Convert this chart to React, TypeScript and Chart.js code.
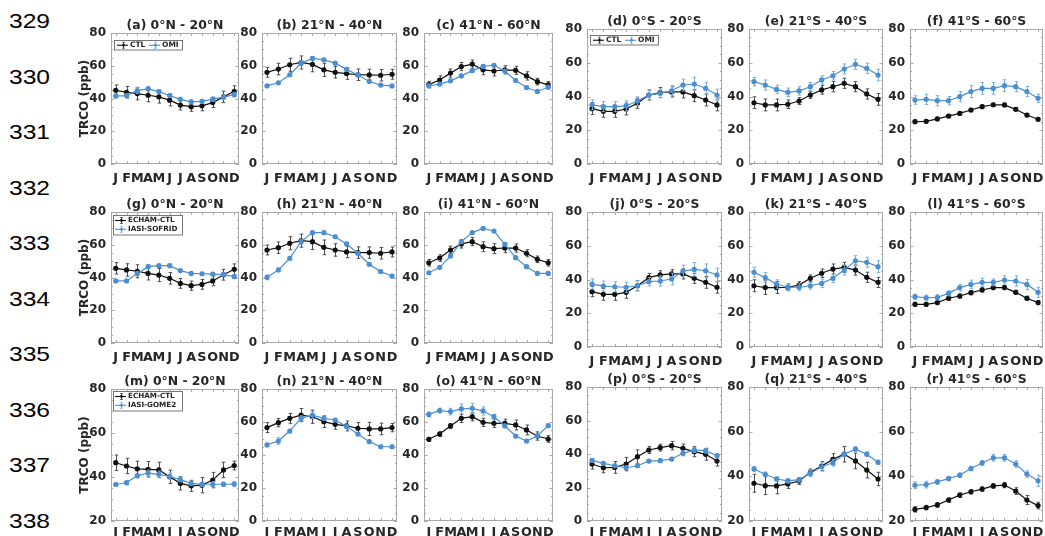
import { useEffect, useRef } from "react";
import { Chart, registerables } from "chart.js";

Chart.register(...registerables);

// ---------------------------------------------------------------------------
// Axis labels
// ---------------------------------------------------------------------------
const MONTHS = ["J", "F", "M", "A", "M", "J", "J", "A", "S", "O", "N", "D"];
const LINE_NUMBERS = ["329", "330", "331", "332", "333", "334", "335", "336", "337", "338"];
const Y_TITLE = "TRCO (ppb)";

// ---------------------------------------------------------------------------
// Monthly mean tropospheric CO (ppb) and 1-sigma spreads
// Row 1: ECHAM CTL vs OMI
// ---------------------------------------------------------------------------
const ctlA = [45.0, 43.8, 43.0, 42.0, 41.0, 39.0, 36.0, 35.0, 35.5, 37.5, 41.0, 44.4];
const omiA = [41.5, 41.8, 44.8, 45.9, 44.2, 41.8, 39.5, 38.0, 38.3, 39.6, 40.8, 42.4];
const ctlErrA = [3.3, 3.5, 3.8, 4.0, 3.8, 3.5, 3.0, 2.8, 3.0, 3.0, 3.5, 3.3];
const omiErrA = [1.2, 1.3, 1.8, 1.5, 1.3, 1.2, 1.2, 1.2, 1.2, 1.3, 1.3, 1.3];

const ctlB = [56.0, 58.0, 60.6, 62.0, 60.8, 57.5, 56.0, 55.2, 54.5, 54.4, 54.2, 54.8];
const omiB = [47.7, 49.6, 54.5, 61.5, 64.5, 63.6, 61.6, 57.8, 54.4, 50.4, 48.2, 47.7];
const ctlErrB = [3.0, 3.5, 4.0, 4.0, 4.5, 4.0, 3.5, 3.5, 3.5, 3.5, 3.5, 3.0];
const omiErrB = [0.8, 0.8, 1.0, 1.5, 1.0, 1.0, 1.0, 1.0, 1.0, 0.8, 0.8, 0.8];

const ctlC = [48.5, 51.3, 55.5, 59.5, 61.0, 57.5, 56.8, 57.5, 57.2, 53.8, 50.3, 48.3];
const omiC = [47.8, 48.8, 50.8, 53.8, 57.0, 59.6, 60.3, 56.8, 51.0, 46.7, 44.3, 46.9];
const ctlErrC = [2.0, 2.5, 2.5, 2.5, 2.5, 3.0, 3.0, 2.5, 2.5, 2.5, 2.0, 2.0];
const omiErrC = [1.0, 1.0, 1.0, 1.0, 1.0, 1.0, 1.0, 1.0, 1.0, 1.0, 1.0, 1.0];

const ctlD = [32.8, 31.2, 31.2, 32.6, 36.0, 40.9, 42.3, 42.7, 42.7, 40.5, 37.9, 35.0];
const omiD = [35.1, 34.0, 34.0, 34.4, 37.3, 40.9, 41.9, 43.4, 46.8, 47.4, 44.9, 40.9];
const ctlErrD = [3.5, 3.5, 3.5, 3.5, 3.0, 3.0, 3.0, 3.0, 3.5, 3.5, 3.5, 3.5];
const omiErrD = [3.0, 3.0, 3.0, 3.0, 2.5, 2.5, 2.5, 3.0, 3.5, 4.0, 3.5, 3.5];

const ctlE = [36.3, 35.0, 35.0, 35.4, 37.3, 40.9, 43.9, 45.8, 47.8, 45.8, 41.5, 38.3];
const omiE = [48.8, 46.8, 44.2, 42.5, 43.3, 45.8, 49.8, 52.3, 56.3, 59.1, 56.7, 52.7];
const ctlErrE = [3.5, 3.5, 3.5, 2.5, 2.0, 2.0, 2.5, 3.0, 3.0, 3.0, 3.0, 3.5];
const omiErrE = [2.5, 3.0, 2.5, 2.5, 2.5, 2.5, 2.5, 2.5, 3.0, 3.0, 3.0, 3.5];

const ctlF = [25.1, 25.3, 26.7, 28.4, 30.0, 32.0, 34.0, 35.1, 35.0, 32.4, 29.0, 26.5];
const omiF = [37.9, 38.3, 37.5, 37.5, 39.9, 42.9, 44.8, 44.8, 46.4, 45.8, 42.9, 38.9];
const ctlErrF = [1.0, 1.0, 1.0, 1.0, 1.0, 1.0, 1.0, 1.0, 1.0, 1.0, 1.0, 1.0];
const omiErrF = [2.5, 3.0, 3.0, 2.5, 3.0, 3.5, 3.5, 3.5, 3.5, 3.0, 3.0, 2.5];

// Row 2: ECHAM CTL vs IASI-SOFRID
const ctlG = [45.6, 44.6, 43.8, 42.5, 41.5, 39.5, 36.4, 35.0, 35.8, 37.9, 41.7, 45.0];
const sofridG = [37.9, 37.9, 42.5, 46.6, 47.2, 47.2, 44.2, 42.5, 42.3, 42.1, 41.7, 40.5];
const ctlErrG = [3.5, 3.8, 4.0, 4.0, 4.0, 3.5, 3.0, 2.8, 3.0, 3.0, 3.3, 3.3];
const sofridErrG = [0.8, 0.8, 1.0, 1.2, 1.0, 1.0, 0.8, 0.8, 0.8, 0.8, 0.8, 1.0];

const ctlH = [56.8, 58.2, 60.9, 62.5, 61.9, 58.4, 56.8, 55.6, 55.2, 55.2, 54.8, 55.6];
const sofridH = [40.1, 44.6, 51.7, 61.9, 67.4, 67.4, 64.9, 60.5, 54.8, 48.1, 43.6, 40.9];
const ctlErrH = [3.0, 3.5, 4.0, 4.0, 4.8, 4.5, 3.8, 3.5, 3.5, 3.5, 3.5, 3.0];
const sofridErrH = [1.5, 1.0, 1.0, 1.5, 1.0, 1.0, 1.0, 1.0, 1.0, 1.0, 0.8, 1.0];

const ctlI = [49.0, 51.9, 56.8, 60.5, 61.9, 58.8, 57.6, 58.0, 58.0, 54.8, 51.1, 49.0];
const sofridI = [42.9, 46.2, 53.1, 61.9, 67.4, 70.0, 68.4, 60.3, 52.1, 46.6, 42.5, 42.5];
const ctlErrI = [2.0, 2.0, 2.3, 2.5, 2.5, 3.0, 3.0, 2.8, 2.5, 2.2, 2.0, 2.0];
const sofridErrI = [0.8, 0.8, 0.8, 0.8, 0.8, 0.8, 0.8, 0.8, 0.8, 0.8, 0.8, 0.8];

const ctlJ = [32.8, 31.2, 31.2, 32.4, 36.3, 41.1, 42.7, 43.3, 43.3, 40.7, 38.3, 35.4];
const sofridJ = [37.3, 36.1, 35.7, 35.4, 36.3, 38.7, 39.1, 40.3, 45.0, 46.0, 45.2, 42.7];
const ctlErrJ = [3.0, 3.5, 3.5, 3.5, 3.0, 2.5, 2.5, 2.5, 3.0, 3.0, 3.5, 3.5];
const sofridErrJ = [3.0, 3.0, 3.0, 3.0, 3.0, 2.5, 3.0, 3.5, 3.5, 4.0, 4.0, 4.0];

const ctlK = [36.3, 35.2, 35.2, 35.4, 36.7, 40.7, 43.7, 46.2, 47.2, 45.6, 41.3, 38.3];
const sofridK = [44.3, 41.1, 37.3, 35.4, 35.4, 36.3, 37.7, 40.7, 45.6, 51.1, 50.2, 47.6];
const ctlErrK = [3.5, 4.0, 3.5, 2.0, 2.0, 2.0, 2.5, 3.0, 3.0, 3.0, 3.0, 3.0];
const sofridErrK = [3.0, 3.0, 2.5, 2.0, 2.0, 2.0, 2.5, 2.5, 3.0, 3.0, 3.0, 3.5];

const ctlL = [25.3, 25.3, 26.3, 28.9, 30.2, 32.2, 33.8, 35.2, 35.2, 32.4, 28.9, 26.3];
const sofridL = [29.8, 29.2, 29.4, 31.8, 35.2, 37.1, 38.3, 38.3, 39.7, 39.1, 37.1, 32.4];
const ctlErrL = [1.2, 1.2, 1.2, 1.2, 1.2, 1.2, 1.2, 1.2, 1.2, 1.2, 1.2, 1.2];
const sofridErrL = [1.5, 1.5, 1.5, 1.5, 2.0, 2.5, 2.5, 2.0, 2.5, 3.0, 3.0, 3.0];

// Row 3: ECHAM CTL vs IASI-GOME2
const ctlM = [46.5, 45.0, 43.7, 43.5, 43.2, 40.1, 37.1, 36.0, 36.3, 38.6, 43.2, 45.2];
const gome2M = [36.6, 37.4, 40.6, 41.8, 41.2, 40.3, 38.8, 37.1, 36.7, 36.7, 36.7, 36.8];
const ctlErrM = [3.5, 3.5, 3.5, 3.5, 3.5, 3.0, 3.0, 2.5, 3.5, 3.5, 3.5, 2.0];
const gome2ErrM = [0.8, 1.0, 1.0, 1.3, 1.5, 1.5, 1.0, 1.0, 1.0, 1.2, 1.0, 1.2];

const ctlN = [56.6, 59.6, 62.2, 64.2, 63.2, 60.2, 58.6, 57.6, 56.2, 55.8, 55.8, 56.6];
const gome2N = [46.1, 48.5, 54.5, 62.2, 64.2, 62.2, 61.2, 57.2, 52.7, 48.1, 45.0, 45.0];
const ctlErrN = [3.0, 2.5, 3.0, 4.0, 4.0, 3.5, 3.0, 3.0, 3.5, 4.0, 3.5, 2.5];
const gome2ErrN = [1.0, 2.0, 1.0, 1.5, 2.0, 1.2, 1.0, 1.0, 1.0, 1.0, 1.0, 1.0];

const ctlO = [49.5, 52.7, 57.6, 62.2, 63.2, 59.8, 59.2, 59.2, 58.2, 55.2, 51.5, 49.7];
const gome2O = [64.6, 66.9, 66.3, 67.9, 68.3, 66.7, 63.2, 57.6, 51.5, 48.5, 51.5, 57.8];
const ctlErrO = [1.2, 1.5, 1.5, 2.5, 2.5, 2.5, 2.5, 2.5, 3.0, 3.0, 2.5, 2.0];
const gome2ErrO = [1.5, 1.5, 2.0, 3.0, 3.0, 2.5, 1.5, 1.0, 1.0, 1.0, 1.0, 1.0];

const ctlP = [34.0, 31.8, 32.0, 34.0, 38.4, 42.4, 43.8, 45.0, 43.4, 41.4, 39.8, 35.8];
const gome2P = [36.2, 34.4, 33.0, 31.8, 33.0, 35.8, 36.0, 37.0, 40.4, 42.4, 42.0, 39.0];
const ctlErrP = [3.0, 3.0, 3.5, 4.0, 4.0, 2.0, 2.0, 2.5, 2.5, 3.0, 3.5, 3.0];
const gome2ErrP = [1.0, 1.0, 1.0, 1.0, 1.0, 1.0, 1.0, 1.0, 1.5, 1.5, 1.5, 1.0];

const ctlQ = [36.9, 35.8, 35.7, 36.6, 37.9, 41.8, 44.6, 47.6, 49.9, 46.9, 42.8, 38.8];
const gome2Q = [43.3, 40.9, 38.8, 38.0, 38.5, 41.4, 44.3, 46.1, 49.9, 52.2, 49.9, 46.3];
const ctlErrQ = [4.0, 4.0, 3.5, 2.0, 1.5, 1.5, 2.0, 2.5, 3.5, 3.5, 3.5, 3.0];
const gome2ErrQ = [1.0, 1.0, 1.0, 1.0, 1.0, 1.5, 2.0, 1.5, 1.0, 1.0, 1.0, 1.0];

const ctlR = [25.2, 26.0, 27.2, 29.4, 31.6, 33.1, 34.3, 35.7, 36.1, 33.4, 29.4, 26.9];
const gome2R = [36.0, 36.3, 37.5, 39.0, 40.5, 43.5, 46.0, 48.3, 48.3, 45.5, 41.0, 38.0];
const ctlErrR = [1.2, 1.0, 1.0, 1.0, 1.0, 1.0, 1.0, 1.0, 1.2, 1.5, 2.0, 1.5];
const gome2ErrR = [1.5, 1.5, 1.0, 1.0, 1.0, 1.0, 1.0, 1.5, 1.5, 1.5, 1.5, 2.5];

// ---------------------------------------------------------------------------
// Panel definitions
// ---------------------------------------------------------------------------
type LegendKind = "row" | "col" | null;
interface PanelSpec {
  title: string;
  ctl: number[];
  obs: number[];
  ctlErr: number[];
  obsErr: number[];
  ctlName: string;
  obsName: string;
  yMin: number;
  legend: LegendKind;
  yTitle: boolean;
}

const panel = (
  title: string, ctl: number[], obs: number[], ctlErr: number[], obsErr: number[],
  ctlName: string, obsName: string, yMin = 0, legend: LegendKind = null, yTitle = false
): PanelSpec => ({ title, ctl, obs, ctlErr, obsErr, ctlName, obsName, yMin, legend, yTitle });

const PANELS: PanelSpec[] = [
  panel("(a) 0°N - 20°N", ctlA, omiA, ctlErrA, omiErrA, "CTL", "OMI", 0, "row", true),
  panel("(b) 21°N - 40°N", ctlB, omiB, ctlErrB, omiErrB, "CTL", "OMI"),
  panel("(c) 41°N - 60°N", ctlC, omiC, ctlErrC, omiErrC, "CTL", "OMI"),
  panel("(d) 0°S - 20°S", ctlD, omiD, ctlErrD, omiErrD, "CTL", "OMI", 0, "row"),
  panel("(e) 21°S - 40°S", ctlE, omiE, ctlErrE, omiErrE, "CTL", "OMI"),
  panel("(f) 41°S - 60°S", ctlF, omiF, ctlErrF, omiErrF, "CTL", "OMI"),
  panel("(g) 0°N - 20°N", ctlG, sofridG, ctlErrG, sofridErrG, "ECHAM-CTL", "IASI-SOFRID", 0, "col", true),
  panel("(h) 21°N - 40°N", ctlH, sofridH, ctlErrH, sofridErrH, "ECHAM-CTL", "IASI-SOFRID"),
  panel("(i) 41°N - 60°N", ctlI, sofridI, ctlErrI, sofridErrI, "ECHAM-CTL", "IASI-SOFRID"),
  panel("(j) 0°S - 20°S", ctlJ, sofridJ, ctlErrJ, sofridErrJ, "ECHAM-CTL", "IASI-SOFRID"),
  panel("(k) 21°S - 40°S", ctlK, sofridK, ctlErrK, sofridErrK, "ECHAM-CTL", "IASI-SOFRID"),
  panel("(l) 41°S - 60°S", ctlL, sofridL, ctlErrL, sofridErrL, "ECHAM-CTL", "IASI-SOFRID"),
  panel("(m) 0°N - 20°N", ctlM, gome2M, ctlErrM, gome2ErrM, "ECHAM-CTL", "IASI-GOME2", 20, "col", true),
  panel("(n) 21°N - 40°N", ctlN, gome2N, ctlErrN, gome2ErrN, "ECHAM-CTL", "IASI-GOME2"),
  panel("(o) 41°N - 60°N", ctlO, gome2O, ctlErrO, gome2ErrO, "ECHAM-CTL", "IASI-GOME2"),
  panel("(p) 0°S - 20°S", ctlP, gome2P, ctlErrP, gome2ErrP, "ECHAM-CTL", "IASI-GOME2"),
  panel("(q) 21°S - 40°S", ctlQ, gome2Q, ctlErrQ, gome2ErrQ, "ECHAM-CTL", "IASI-GOME2", 20),
  panel("(r) 41°S - 60°S", ctlR, gome2R, ctlErrR, gome2ErrR, "ECHAM-CTL", "IASI-GOME2", 20),
];

// ---------------------------------------------------------------------------
// Page layout (plot-area boxes in page pixels)
// ---------------------------------------------------------------------------
const COL_X: [number, number][] = [
  [111, 239], [262, 397], [424, 553], [587, 722], [749, 883], [910, 1043],
];
const ROW_Y_LEFT: [number, number][] = [[33, 164], [212, 343], [389, 521]];
const ROW_Y_RIGHT: [number, number][] = [[29, 164], [212, 347], [387, 521]];
const X_LABEL_PAD = [7, 7, 4];

const FONT = "DejaVu Sans";
const TEXT = "#262626";
const FRAME = "#a8a8a8";
const BLACK = "#111111";
const BLACK_ERR = "#4d4d4d";
const BLUE = "#4b8fd1";
const BLUE_ERR = "#7aaee0";

const TITLE_BLOCK = 17; // title line (14.4) + padding above/below
const X_AXIS_H = 24;
const RIGHT_PAD = 10;

// ---------------------------------------------------------------------------
// Drawing helpers
// ---------------------------------------------------------------------------
function drawErrorGlyph(ctx: CanvasRenderingContext2D, x: number, yTop: number, yBot: number, cap: number) {
  ctx.beginPath();
  ctx.moveTo(x, yTop);
  ctx.lineTo(x, yBot);
  ctx.moveTo(x - cap, yTop);
  ctx.lineTo(x + cap, yTop);
  ctx.moveTo(x - cap, yBot);
  ctx.lineTo(x + cap, yBot);
  ctx.stroke();
}

function makePlugins(spec: PanelSpec) {
  const frame = {
    id: "panelFrame",
    beforeDatasetsDraw(chart: any) {
      const { ctx, chartArea } = chart;
      const { left, right, top, bottom } = chartArea;
      const xs = chart.scales.x;
      const ys = chart.scales.y;
      ctx.save();
      ctx.strokeStyle = FRAME;
      ctx.lineWidth = 1;
      ctx.strokeRect(left + 0.5, top + 0.5, right - left - 1, bottom - top - 1);
      ctx.beginPath();
      for (let v = spec.yMin; v <= 80; v += 5) {
        const y = Math.round(ys.getPixelForValue(v)) + 0.5;
        const len = v % 20 === 0 ? 3.5 : 2;
        ctx.moveTo(left, y);
        ctx.lineTo(left + len, y);
        ctx.moveTo(right, y);
        ctx.lineTo(right - len, y);
      }
      for (let i = 0; i < MONTHS.length; i++) {
        const x = Math.round(xs.getPixelForValue(i)) + 0.5;
        ctx.moveTo(x, bottom);
        ctx.lineTo(x, bottom - 3);
        ctx.moveTo(x, top);
        ctx.lineTo(x, top + 3);
      }
      ctx.stroke();
      ctx.restore();
    },
  };

  const errorBars = {
    id: "errorBars",
    beforeDatasetDraw(chart: any, args: any) {
      const ds = chart.data.datasets[args.index];
      const errs: number[] | undefined = ds.errors;
      if (!errs) return;
      const { ctx } = chart;
      const xs = chart.scales.x;
      const ys = chart.scales.y;
      ctx.save();
      ctx.strokeStyle = ds.errorColor;
      ctx.lineWidth = 1;
      ds.data.forEach((pt: { x: number; y: number }, i: number) => {
        const x = Math.round(xs.getPixelForValue(pt.x)) + 0.5;
        drawErrorGlyph(ctx, x, ys.getPixelForValue(pt.y + errs[i]), ys.getPixelForValue(pt.y - errs[i]), 1.8);
      });
      ctx.restore();
    },
  };

  const legendBox = {
    id: "legendBox",
    afterDatasetsDraw(chart: any) {
      if (!spec.legend) return;
      const { ctx, chartArea } = chart;
      const items = [
        { name: spec.ctlName, color: BLACK, err: BLACK_ERR },
        { name: spec.obsName, color: BLUE, err: BLUE_ERR },
      ];
      const sample = (x0: number, x1: number, y: number, it: { color: string; err: string }) => {
        ctx.strokeStyle = it.color;
        ctx.lineWidth = 1.1;
        ctx.beginPath();
        ctx.moveTo(x0, y);
        ctx.lineTo(x1, y);
        ctx.stroke();
        const xm = Math.round((x0 + x1) / 2) + 0.5;
        ctx.strokeStyle = it.err;
        ctx.lineWidth = 1;
        drawErrorGlyph(ctx, xm, y - 3, y + 3, 1.2);
        ctx.fillStyle = it.color;
        ctx.beginPath();
        ctx.arc(xm, y, 1.4, 0, Math.PI * 2);
        ctx.fill();
      };
      ctx.save();
      ctx.textBaseline = "middle";
      ctx.textAlign = "left";
      if (spec.legend === "row") {
        const bx = chartArea.left + 3;
        const by = chartArea.top + (spec.yTitle ? 7 : 6);
        const bw = 68;
        const bh = 9.5;
        ctx.fillStyle = "#ffffff";
        ctx.fillRect(bx, by, bw, bh);
        ctx.strokeStyle = "#555555";
        ctx.lineWidth = 0.8;
        ctx.strokeRect(bx + 0.5, by + 0.5, bw, bh);
        ctx.font = `bold 7.5px "${FONT}"`;
        const ym = by + bh / 2 + 0.5;
        sample(bx + 3, bx + 14, ym, items[0]);
        ctx.fillStyle = TEXT;
        ctx.fillText(items[0].name, bx + 16, ym);
        sample(bx + 35, bx + 46, ym, items[1]);
        ctx.fillStyle = TEXT;
        ctx.fillText(items[1].name, bx + 48, ym);
      } else {
        const bx = chartArea.left + 2;
        const by = chartArea.top + (spec.yMin === 20 ? 2 : 3);
        const bw = 69;
        const bh = 19.5;
        ctx.fillStyle = "#ffffff";
        ctx.fillRect(bx, by, bw, bh);
        ctx.strokeStyle = "#555555";
        ctx.lineWidth = 0.8;
        ctx.strokeRect(bx + 0.5, by + 0.5, bw, bh);
        ctx.font = `bold 7.2px "${FONT}"`;
        items.forEach((it, k) => {
          const y = by + 5.5 + k * 8.8;
          sample(bx + 2, bx + 13, y, it);
          ctx.fillStyle = TEXT;
          ctx.fillText(it.name, bx + 15, y);
        });
      }
      ctx.restore();
    },
  };

  return [frame, errorBars, legendBox];
}

function makeConfig(spec: PanelSpec, leftAxisW: number, xPad: number) {
  const toPoints = (vals: number[]) => vals.map((v, i) => ({ x: i, y: v }));
  return {
    type: "line" as const,
    data: {
      datasets: [
        {
          label: spec.obsName,
          data: toPoints(spec.obs),
          errors: spec.obsErr,
          errorColor: BLUE_ERR,
          borderColor: BLUE,
          backgroundColor: BLUE,
          borderWidth: 1.2,
          pointRadius: 2.6,
          pointBorderWidth: 0,
          pointBackgroundColor: BLUE,
          tension: 0,
          order: 1,
        },
        {
          label: spec.ctlName,
          data: toPoints(spec.ctl),
          errors: spec.ctlErr,
          errorColor: BLACK_ERR,
          borderColor: BLACK,
          backgroundColor: BLACK,
          borderWidth: 1.2,
          pointRadius: 2.6,
          pointBorderWidth: 0,
          pointBackgroundColor: BLACK,
          tension: 0,
          order: 2,
        },
      ],
    },
    options: {
      animation: false as const,
      responsive: false,
      maintainAspectRatio: false,
      events: [],
      layout: { padding: { left: 0, right: RIGHT_PAD, top: 0, bottom: 0 } },
      plugins: {
        legend: { display: false },
        tooltip: { enabled: false },
        title: {
          display: true,
          text: spec.title,
          fullSize: false,
          color: TEXT,
          font: { family: FONT, size: 12.4, weight: "bold" as const, lineHeight: 14.4 / 12.4 },
          padding: { top: 2.1, bottom: 0.5 },
        },
      },
      scales: {
        x: {
          type: "linear" as const,
          min: -0.44,
          max: 11.44,
          grid: { display: false, drawTicks: false },
          border: { display: false },
          afterBuildTicks: (scale: any) => {
            scale.ticks = MONTHS.map((_, i) => ({ value: i }));
          },
          afterFit: (scale: any) => {
            scale.height = X_AXIS_H;
          },
          ticks: {
            autoSkip: false,
            maxRotation: 0,
            padding: xPad,
            color: TEXT,
            font: { family: FONT, size: 12.8, weight: "bold" as const },
            callback: (value: number) => MONTHS[Math.round(value)] ?? "",
          },
        },
        y: {
          type: "linear" as const,
          min: spec.yMin,
          max: 80,
          grid: { display: false, drawTicks: false },
          border: { display: false },
          afterFit: (scale: any) => {
            scale.width = leftAxisW;
          },
          ticks: {
            stepSize: 20,
            padding: 5,
            color: TEXT,
            font: { family: FONT, size: 12, weight: "bold" as const },
          },
          title: {
            display: spec.yTitle,
            text: Y_TITLE,
            color: TEXT,
            font: { family: FONT, size: 12, weight: "bold" as const },
            padding: { top: 2.3, bottom: 0 },
          },
        },
      },
    },
    plugins: makePlugins(spec),
  };
}

function Panel({ spec, index }: { spec: PanelSpec; index: number }) {
  const ref = useRef<HTMLCanvasElement | null>(null);
  const col = index % 6;
  const row = Math.floor(index / 6);
  const [x0, x1] = COL_X[col];
  const [y0, y1] = (col < 3 ? ROW_Y_LEFT : ROW_Y_RIGHT)[row];
  const leftAxisW = spec.yTitle ? 36 : 30;
  const xPad = X_LABEL_PAD[row];
  const left = x0 - leftAxisW;
  const top = y0 - TITLE_BLOCK;
  const width = leftAxisW + (x1 - x0) + RIGHT_PAD;
  const height = TITLE_BLOCK + (y1 - y0) + X_AXIS_H;

  useEffect(() => {
    if (!ref.current) return;
    const chart = new Chart(ref.current, makeConfig(spec, leftAxisW, xPad) as any);
    return () => chart.destroy();
  }, [spec, leftAxisW, xPad]);

  return (
    <canvas
      ref={ref}
      width={width}
      height={height}
      style={{ position: "absolute", left, top, width, height }}
    />
  );
}

export default function App() {
  return (
    <div
      style={{
        position: "absolute",
        left: 0,
        top: 0,
        width: 1045,
        height: 536,
        background: "#ffffff",
        overflow: "hidden",
      }}
    >
      {LINE_NUMBERS.map((n, i) => (
        <div
          key={n}
          style={{
            position: "absolute",
            left: 9,
            top: 21 + i * 55.5 - 12,
            font: '21px "Liberation Sans", Arial, sans-serif',
            lineHeight: "24px",
            color: "#000000",
            transform: "scaleX(1.17)",
            transformOrigin: "left center",
            whiteSpace: "nowrap",
          }}
        >
          {n}
        </div>
      ))}
      {PANELS.map((p, i) => (
        <Panel key={p.title + i} spec={p} index={i} />
      ))}
    </div>
  );
}
